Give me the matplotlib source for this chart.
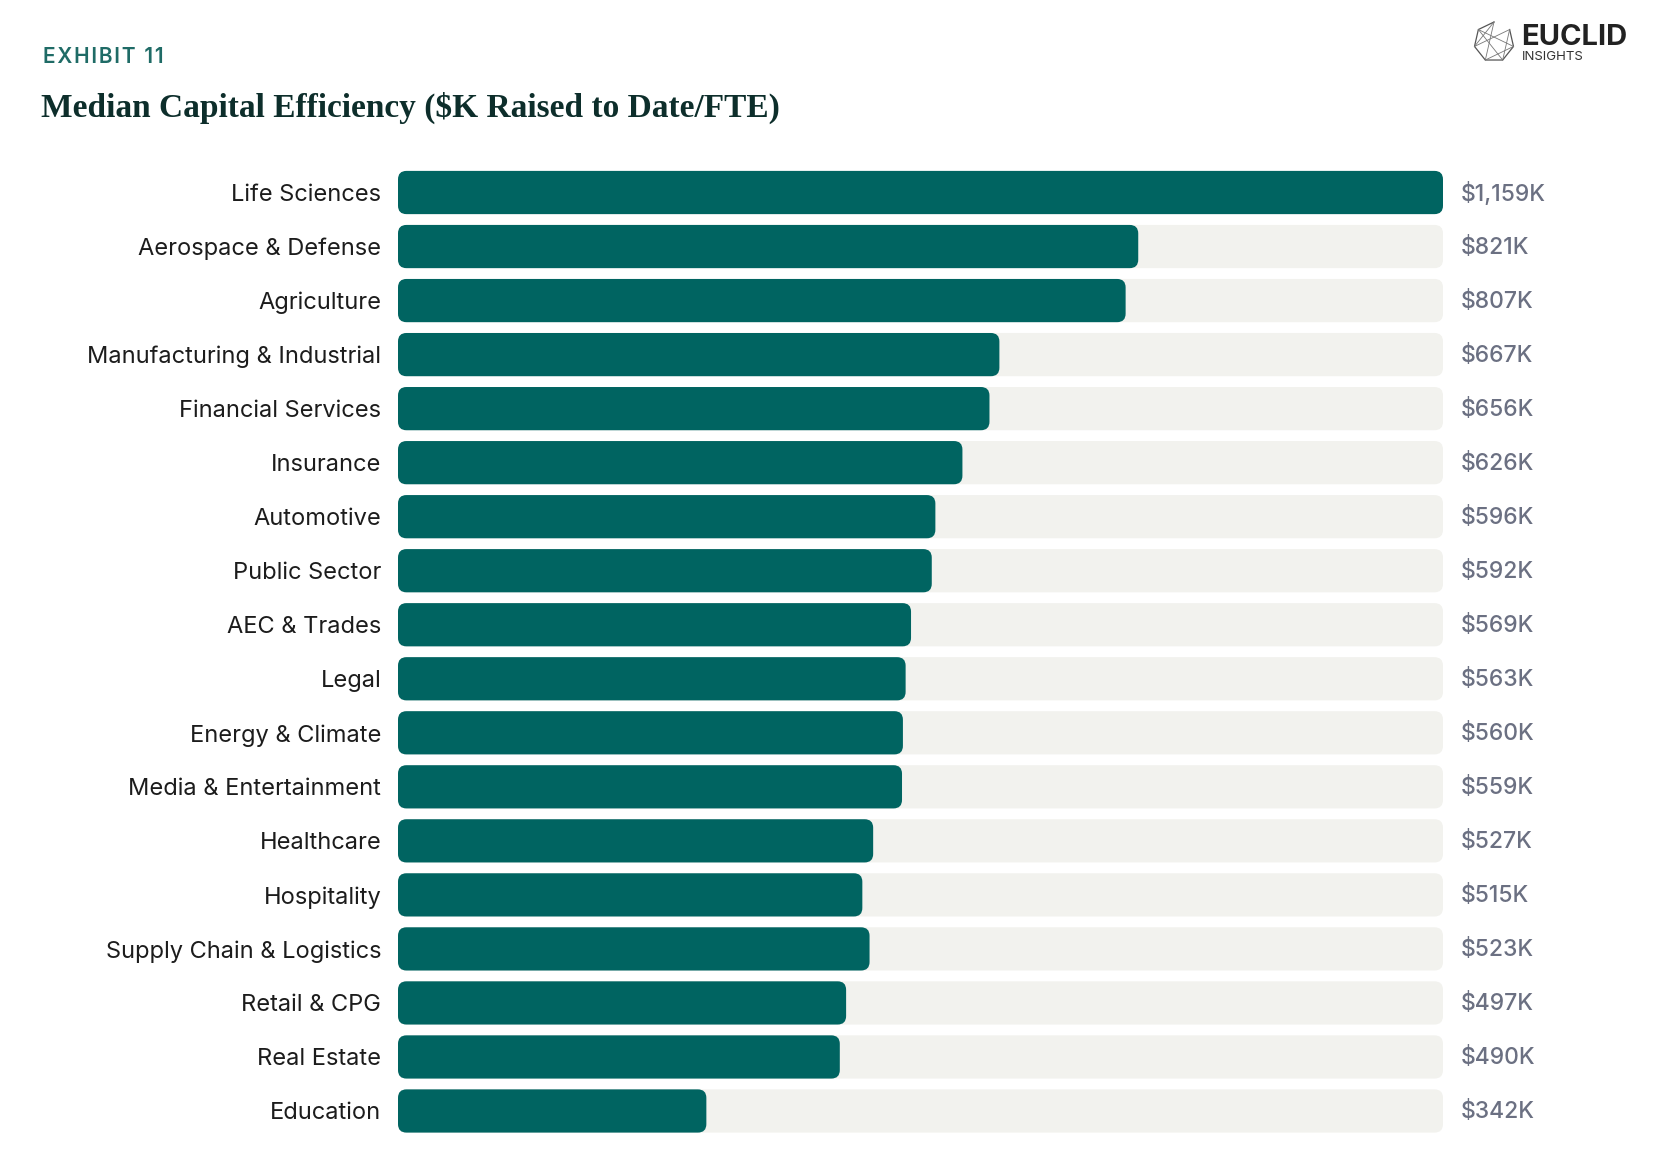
import matplotlib.pyplot as plt
from matplotlib.patches import FancyBboxPatch
import numpy as np

plt.rcParams['font.family'] = ['Inter', 'DejaVu Sans']

categories = ["Life Sciences", "Aerospace & Defense", "Agriculture",
              "Manufacturing & Industrial", "Financial Services", "Insurance",
              "Automotive", "Public Sector", "AEC & Trades", "Legal",
              "Energy & Climate", "Media & Entertainment", "Healthcare",
              "Hospitality", "Supply Chain & Logistics", "Retail & CPG",
              "Real Estate", "Education"]
values = [1159, 821, 807, 667, 656, 626, 596, 592, 569, 563, 560, 559,
          527, 515, 523, 497, 490, 342]
value_labels = ["$1,159K", "$821K", "$807K", "$667K", "$656K", "$626K",
                "$596K", "$592K", "$569K", "$563K", "$560K", "$559K",
                "$527K", "$515K", "$523K", "$497K", "$490K", "$342K"]

TEAL = "#006461"
TRACK = "#f2f2ee"
W, H = 1654, 1166

fig = plt.figure(figsize=(W / 100, H / 100), dpi=100)
ax = fig.add_axes([398 / W, 1 - 1138 / H, 1045 / W, (1138 - 165.5) / H])

xmax = max(values)
ax.set_xlim(0, xmax)
ax.set_ylim(len(categories) - 0.5, -0.5)

bh = 0.80
r = 8.5 * xmax / 1045           # corner radius in x data units (~8.5 px)
aspect = (8.5 / 54) / r         # converts x radius to y units

for i, v in enumerate(values):
    track = FancyBboxPatch((0, i - bh / 2), xmax, bh,
                           boxstyle=f"round,pad=0,rounding_size={r}",
                           mutation_aspect=aspect, fc=TRACK, ec="none")
    ax.add_patch(track)
    bar = FancyBboxPatch((0, i - bh / 2), v, bh,
                         boxstyle=f"round,pad=0,rounding_size={r}",
                         mutation_aspect=aspect, fc=TEAL, ec="none")
    ax.add_patch(bar)
    ax.annotate(value_labels[i], xy=(1, i), xycoords=ax.get_yaxis_transform(),
                xytext=(13, -1), textcoords="offset points", ha="left",
                va="center", fontsize=16.5, color="#6b7082", fontweight="medium")

ax.set_yticks(np.arange(len(categories)))
ax.set_yticklabels(categories, fontsize=17, color="#1c1c1c")
ax.tick_params(axis="y", length=0, pad=12)
ax.set_xticks([])
for s in ax.spines.values():
    s.set_visible(False)

# header
fig.text(43 / W, 1 - 63 / H, "\u200a".join("EXHIBIT 11"),
         fontsize=15, color="#1f6b66", fontweight="semibold", va="baseline")
fig.text(41 / W, 1 - 117 / H, "Median Capital Efficiency ($K Raised to Date/FTE)",
         fontsize=24, color="#0d2e2b", fontweight="bold",
         family="Liberation Serif", va="baseline")

# logo
fig.text(1521 / W, 1 - 45 / H, "EUCLID", fontsize=21, fontweight="bold",
         color="#222222", va="baseline")
fig.text(1522 / W, 1 - 60 / H, "INSIGHTS", fontsize=9.5, color="#333333",
         va="baseline")
cx, cy, rad = 1494, 42, 20
ang = np.deg2rad(np.arange(7) * 360 / 7 + 90)
px = cx + rad * np.cos(ang)
py = cy - rad * np.sin(ang)
ox, oy = px / W, 1 - py / H
fig.add_artist(plt.Line2D(ox, oy, color="#555555", lw=0.9))
inner = [(0, 3), (3, 5), (5, 1), (1, 4), (4, 6), (6, 2), (2, 0)]
for a, b in inner:
    fig.add_artist(plt.Line2D([ox[a], ox[b]], [oy[a], oy[b]],
                              color="#777777", lw=0.6))

fig.savefig("out.png", dpi=100, facecolor="white")
